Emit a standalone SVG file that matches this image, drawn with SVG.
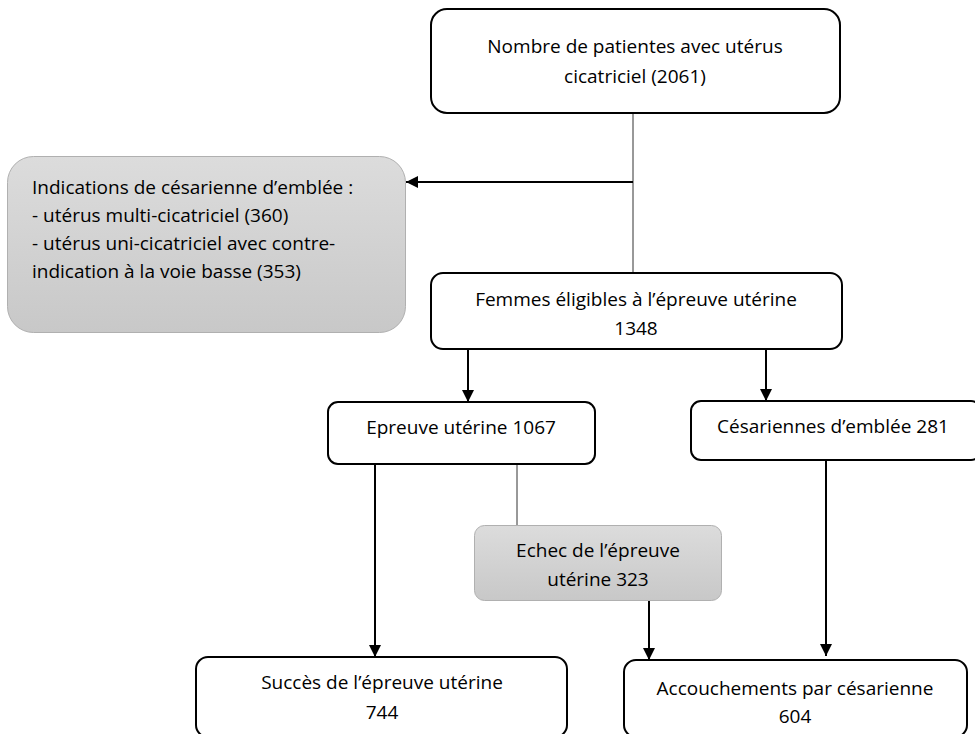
<svg xmlns="http://www.w3.org/2000/svg" width="975" height="734" viewBox="0 0 975 734">
<defs>
<linearGradient id="grey" x1="0" y1="0" x2="0" y2="1">
<stop offset="0" stop-color="#dcdcdc"/>
<stop offset="1" stop-color="#c8c8c8"/>
</linearGradient>
<marker id="arr" markerUnits="userSpaceOnUse" markerWidth="12" markerHeight="12" viewBox="0 0 12 12" refX="12" refY="6" orient="auto">
<path d="M0,0 L12,6 L0,12 z" fill="#000"/>
</marker>
<style>
.box{fill:#fff;stroke:#000;stroke-width:2}
.gbox{fill:url(#grey);stroke:#b0b0b0;stroke-width:1}
text{font-family:"Open Sans","Liberation Sans",sans-serif;font-size:19px;fill:#000}
.c{text-anchor:middle}
.thick{stroke:#000;stroke-width:2;fill:none}
.thin{stroke:#333;stroke-width:1;fill:none}
</style>
</defs>
<rect width="975" height="734" fill="#fff"/>
<g id="connectors">
<line class="thin" x1="633" y1="113" x2="633" y2="273"/>
<line class="thick" x1="633" y1="182" x2="406" y2="182" marker-end="url(#arr)"/>
<line class="thick" x1="468" y1="349" x2="468" y2="402" marker-end="url(#arr)"/>
<line class="thick" x1="766" y1="349" x2="766" y2="401" marker-end="url(#arr)"/>
<line class="thick" x1="375" y1="464" x2="375" y2="657" marker-end="url(#arr)"/>
<line class="thin" x1="517" y1="464" x2="517" y2="525"/>
<line class="thick" x1="649" y1="601" x2="649" y2="660" marker-end="url(#arr)"/>
<line class="thick" x1="826" y1="461" x2="826" y2="656" marker-end="url(#arr)"/>
</g>
<g id="n-total">
<rect class="box" x="431" y="9" width="409" height="104" rx="16"/>
<text class="c" x="635" y="53">Nombre de patientes avec utérus</text>
<text class="c" x="635" y="83">cicatriciel (2061)</text>
</g>
<g id="n-indications">
<rect class="gbox" x="7.5" y="156.5" width="398" height="176" rx="26"/>
<text x="32" y="194">Indications de césarienne d’emblée :</text>
<text x="32" y="222">- utérus multi-cicatriciel (360)</text>
<text x="32" y="250">- utérus uni-cicatriciel avec contre-</text>
<text x="32" y="278">indication à la voie basse (353)</text>
</g>
<g id="n-eligibles">
<rect class="box" x="431" y="273" width="411" height="76" rx="12"/>
<text class="c" x="636" y="306">Femmes éligibles à l’épreuve utérine</text>
<text class="c" x="636" y="335">1348</text>
</g>
<g id="n-epreuve">
<rect class="box" x="328" y="402" width="267" height="62" rx="10"/>
<text class="c" x="461" y="434">Epreuve utérine 1067</text>
</g>
<g id="n-cesariennes">
<rect class="box" x="691" y="401" width="290" height="59" rx="10"/>
<text class="c" x="833" y="433">Césariennes d’emblée 281</text>
</g>
<g id="n-echec">
<rect class="gbox" x="474.5" y="525.5" width="247" height="75" rx="10"/>
<text class="c" x="598" y="557">Echec de l’épreuve</text>
<text class="c" x="598" y="586">utérine 323</text>
</g>
<g id="n-succes">
<rect class="box" x="196" y="657" width="371" height="80" rx="12"/>
<text class="c" x="382" y="689">Succès de l’épreuve utérine</text>
<text class="c" x="382" y="719">744</text>
</g>
<g id="n-accouchements">
<rect class="box" x="624" y="660" width="343" height="77" rx="12"/>
<text class="c" x="795" y="695">Accouchements par césarienne</text>
<text class="c" x="795" y="723">604</text>
</g>
</svg>
